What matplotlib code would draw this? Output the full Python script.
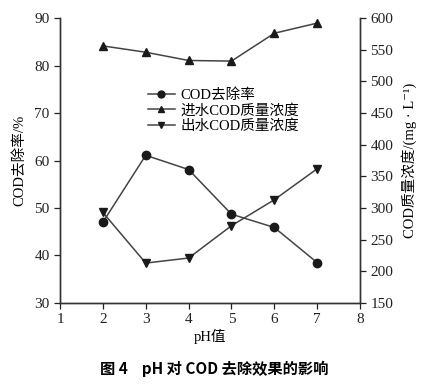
import matplotlib
matplotlib.use('Agg')
import matplotlib.pyplot as plt
from matplotlib.lines import Line2D

plt.rcParams['font.family'] = ['Liberation Serif', 'Noto Sans CJK SC', 'DejaVu Serif']
plt.rcParams['axes.unicode_minus'] = False

# 数据
ph = [2, 3, 4, 5, 6, 7]
removal = [47.0, 61.1, 58.1, 48.7, 45.9, 38.5]        # COD去除率 %
cod_in = [556, 546, 533, 532, 576, 592]              # 进水COD mg/L
cod_out = [293, 213, 221, 272, 313, 362]             # 出水COD mg/L

x_ticks = [1, 2, 3, 4, 5, 6, 7, 8]
left_ticks = [30, 40, 50, 60, 70, 80, 90]
right_ticks = [150, 200, 250, 300, 350, 400, 450, 500, 550, 600]

line_c = '#444444'
mark_c = '#1a1a1a'

fig = plt.figure(figsize=(4.38, 3.84), dpi=100)
ax1 = fig.add_axes([0.137, 0.211, 0.685, 0.742])
ax2 = ax1.twinx()

ax1.plot(ph, removal, color=line_c, lw=1.1, marker='o', ms=6,
         mfc=mark_c, mec=mark_c, label='COD去除率')
ax2.plot(ph, cod_in, color=line_c, lw=1.1, marker='^', ms=6,
         mfc=mark_c, mec=mark_c, label='进水COD质量浓度')
ax2.plot(ph, cod_out, color=line_c, lw=1.1, marker='v', ms=6,
         mfc=mark_c, mec=mark_c, label='出水COD质量浓度')

ax1.set_xlim(1, 8)
ax1.set_ylim(30, 90)
ax2.set_ylim(150, 600)
ax1.set_xticks(x_ticks)
ax1.set_yticks(left_ticks)
ax2.set_yticks(right_ticks)

for ax in (ax1, ax2):
    ax.spines['top'].set_visible(False)
    for s in ax.spines.values():
        s.set_color('#333333')
        s.set_linewidth(1.0)
    ax.tick_params(direction='out', length=4, width=0.9, colors='#222222',
                   labelsize=11)

ax1.set_xlabel('pH值', fontsize=10.5, labelpad=2)
ax1.set_ylabel('COD去除率/%', fontsize=10.5, labelpad=6)
ax2.set_ylabel('COD质量浓度/(mg · L⁻¹)', fontsize=10.5, labelpad=6)

handles = [
    Line2D([], [], color=line_c, lw=1.1, marker='o', ms=5, mfc=mark_c, mec=mark_c),
    Line2D([], [], color=line_c, lw=1.1, marker='^', ms=5, mfc=mark_c, mec=mark_c),
    Line2D([], [], color=line_c, lw=1.1, marker='v', ms=5, mfc=mark_c, mec=mark_c),
]
labels = ['COD去除率', '进水COD质量浓度', '出水COD质量浓度']
ax1.legend(handles, labels, loc='upper left', bbox_to_anchor=(0.27, 0.78),
           frameon=False, fontsize=10.5, handlelength=1.8, handletextpad=0.4,
           labelspacing=0.12, borderpad=0)

fig.text(0.49, 0.04, '图 4    pH 对 COD 去除效果的影响', ha='center', va='center',
         fontsize=11, fontweight='bold',
         family=['Noto Sans CJK SC', 'Liberation Serif'])

fig.savefig('out.png', dpi=100)
